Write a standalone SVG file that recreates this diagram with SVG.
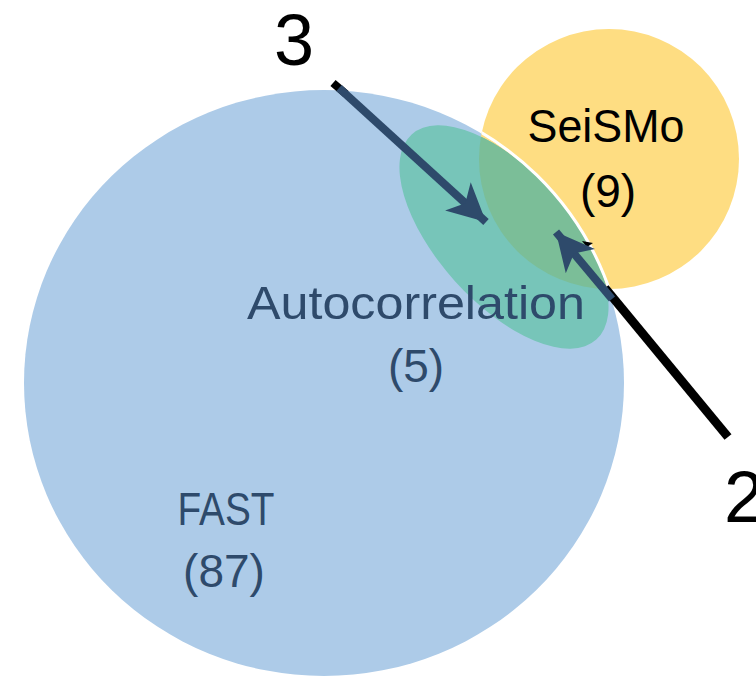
<svg xmlns="http://www.w3.org/2000/svg" width="756" height="677" viewBox="0 0 756 677">
<style>
.lbl{font-family:"Liberation Sans",Arial,sans-serif;font-size:46px;text-anchor:middle}
.navy{fill:#2e4a6b}
.blk{fill:#000}
.big{font-family:"Liberation Sans",Arial,sans-serif;font-size:72px;fill:#000}
</style>
<defs>
<clipPath id="clipY"><circle cx="609" cy="159" r="130"/></clipPath>
<clipPath id="clipB"><ellipse cx="324" cy="383" rx="300" ry="293"/></clipPath>
<marker id="ah" markerUnits="userSpaceOnUse" viewBox="-40 -21 42 42" refX="0" refY="0" markerWidth="42" markerHeight="42" orient="auto">
<path d="M0,0 L-38,-19 L-28,0 L-38,19 Z" fill="#2e4a6b"/>
</marker>
</defs>
<g id="fast">
<ellipse cx="324" cy="383" rx="300" ry="293" fill="#adcbe8"/>
</g>
<g id="seismo">
<circle cx="609" cy="159" r="130" fill="#fedd82"/>
</g>
<g id="autocorrelation">
<g clip-path="url(#clipB)">
<ellipse cx="504" cy="237" rx="138" ry="66" transform="rotate(48 504 237)" fill="#77c5b9"/>
<g clip-path="url(#clipY)">
<ellipse cx="504" cy="237" rx="138" ry="66" transform="rotate(48 504 237)" fill="#7bbe98"/>
</g>
</g>
<g clip-path="url(#clipY)">
<ellipse cx="324" cy="383" rx="301" ry="294" fill="none" stroke="#ffffff" stroke-width="3"/>
</g>
</g>
<g id="connectors">
<line x1="333" y1="83" x2="346" y2="94" stroke="#000" stroke-width="8"/>
<line x1="728" y1="437" x2="605" y2="288" stroke="#000" stroke-width="9"/>
<polygon points="582,241 593,243 587,247" fill="#000"/>
<line x1="339" y1="88" x2="486" y2="222" stroke="#2e4a6b" stroke-width="8" marker-end="url(#ah)"/>
<line x1="612" y1="299" x2="556" y2="232" stroke="#2e4a6b" stroke-width="8" marker-end="url(#ah)"/>
</g>
<g id="labels">
<text class="lbl blk" x="606" y="142" textLength="157" lengthAdjust="spacingAndGlyphs">SeiSMo</text>
<text class="lbl blk" x="608" y="207">(9)</text>
<text class="lbl navy" x="416" y="319" textLength="338" lengthAdjust="spacingAndGlyphs">Autocorrelation</text>
<text class="lbl navy" x="416" y="382">(5)</text>
<text class="lbl navy" x="226" y="525" textLength="97" lengthAdjust="spacingAndGlyphs">FAST</text>
<text class="lbl navy" x="224" y="587">(87)</text>
<text class="big" x="294" y="65" text-anchor="middle">3</text>
<text class="big" x="724" y="522">2</text>
</g>
</svg>
